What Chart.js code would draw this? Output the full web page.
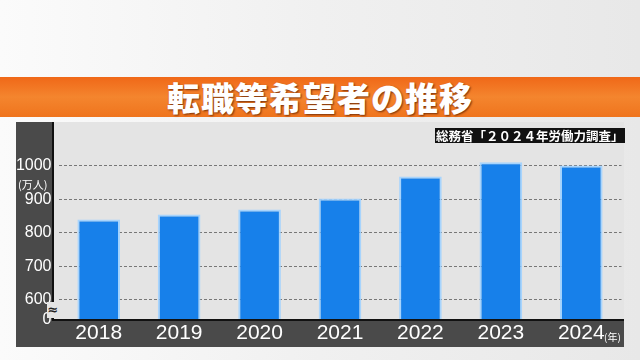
<!DOCTYPE html>
<html>
<head>
    <meta charset="utf-8">
    <title>転職等希望者の推移</title>
    <script src="https://cdn.jsdelivr.net/npm/chart.js"></script>
    <style>
        body { margin: 0; }
        #wrap {
            position: relative; width: 640px; height: 360px; overflow: hidden;
            background: linear-gradient(90deg, #fbfbfb 0%, #f0f0f0 50%, #e8e8e8 100%);
            font-family: "Noto Sans CJK JP", sans-serif;
        }
        #banner {
            position: absolute; left: 0; top: 77px; width: 640px; height: 40px;
            background: linear-gradient(180deg, #f06818 0%, #f4852e 50%, #ef741d 100%);
        }
        #title {
            position: absolute; left: 0; top: 77px; width: 640px; height: 40px;
            line-height: 40px; text-align: center; color: #fff;
            font-size: 33px; font-weight: 900; letter-spacing: 1px;
            text-shadow: 1px 1px 2px rgba(90, 30, 0, 0.8);
        }
        #chart-box { position: absolute; left: 0; top: 0; width: 640px; height: 360px; }
        #source {
            position: absolute; left: 435px; top: 128px; height: 15px; line-height: 15px;
            background: #111; color: #fff; font-size: 12.5px; font-weight: 700; padding: 0 1px;
            white-space: nowrap;
        }
        .note { position: absolute; color: #fff; white-space: nowrap; }
        #unit { left: 18px; top: 176px; font-size: 11px; }
        #year { left: 604px; top: 329px; font-size: 10px; }
        #wave {
            position: absolute; left: 47px; top: 302px; width: 12px; height: 16px; line-height: 16px;
            background: #e4e4e4; color: #222; font-size: 13px; font-weight: 700; text-align: center;
            font-family: "DejaVu Sans", sans-serif;
        }
    </style>
</head>
<body>
    <div id="wrap">
        <div id="banner"></div>
        <div id="title">転職等希望者の推移</div>
        <div id="chart-box"><canvas id="myChart" width="640" height="360"></canvas></div>
        <div id="source">総務省「２０２４年労働力調査」</div>
        <div class="note" id="unit">(万人)</div>
        <div class="note" id="year">(年)</div>
        <div id="wave">≈</div>
    </div>

    <script>
        // data
        var years = ['2018', '2019', '2020', '2021', '2022', '2023', '2024'];
        var seekers = [840, 855, 870, 903, 968, 1011, 1001];
        // broken axis: the bottom tick stands for 0
        var yTickValues = [540, 600, 700, 800, 900, 1000];
        var yTickLabels = ['0', '600', '700', '800', '900', '1000'];

        var narrowFont = '"Liberation Sans Narrow", "Liberation Sans", Arial, sans-serif';
        var numFont = '"Liberation Sans", Arial, sans-serif';

        // dark frame, light plot area and the black axis lines
        var panelPlugin = {
            id: 'panel',
            beforeDraw: function (chart) {
                var c = chart.ctx;
                c.save();
                c.fillStyle = '#4a4a4a';
                c.fillRect(16, 122, 608, 225);
                c.fillStyle = '#e4e4e4';
                c.fillRect(53, 122, 571, 198);
                c.restore();
            },
            afterDatasetsDraw: function (chart) {
                var c = chart.ctx;
                c.save();
                c.strokeStyle = '#111';
                c.lineWidth = 2;
                c.beginPath();
                c.moveTo(53, 122);
                c.lineTo(53, 320);
                c.lineTo(624, 320);
                c.stroke();
                c.restore();
            }
        };

        var ctx = document.getElementById('myChart').getContext('2d');
        var myChart = new Chart(ctx, {
            type: 'bar',
            data: {
                labels: years,
                datasets: [{
                    label: '転職等希望者',
                    data: seekers,
                    backgroundColor: '#1780ea',
                    borderColor: 'rgba(160, 210, 255, 0.9)',
                    borderWidth: 2,
                    borderSkipped: 'bottom',
                    barPercentage: 0.53,
                    categoryPercentage: 1
                }]
            },
            options: {
                responsive: false,
                animation: false,
                layout: { padding: { left: 16, right: 18.5, top: 122, bottom: 0 } },
                plugins: {
                    legend: { display: false },
                    tooltip: { enabled: false }
                },
                scales: {
                    x: {
                        grid: { display: false, drawTicks: false },
                        border: { display: false },
                        ticks: {
                            color: '#fff',
                            font: { family: narrowFont, size: 21 },
                            padding: 1,
                            maxRotation: 0
                        },
                        afterFit: function (s) { s.height = 40; }
                    },
                    y: {
                        min: 540,
                        max: 1131,
                        afterBuildTicks: function (s) {
                            s.ticks = yTickValues.map(function (v) { return { value: v }; });
                        },
                        afterFit: function (s) { s.width = 42.5; },
                        border: { display: false, dash: [3, 2] },
                        grid: {
                            drawTicks: false,
                            lineWidth: 1,
                            color: function (c) {
                                return c.tick && c.tick.value === 540 ? 'rgba(0,0,0,0)' : '#777';
                            }
                        },
                        ticks: {
                            color: '#fff',
                            font: { family: numFont, size: 16 },
                            padding: 7,
                            callback: function (v, i) { return yTickLabels[i]; }
                        }
                    }
                }
            },
            plugins: [panelPlugin]
        });
    </script>
</body>
</html>
